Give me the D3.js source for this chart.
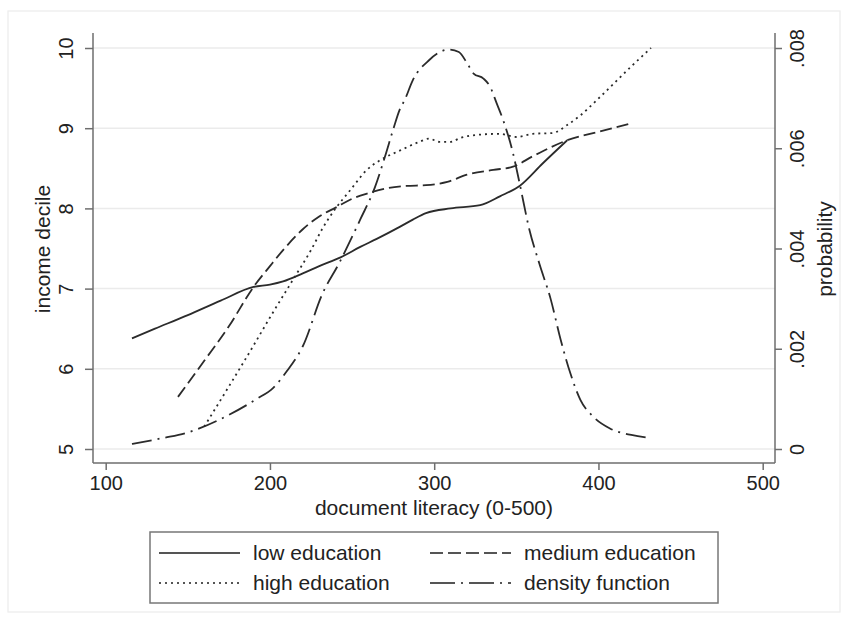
<!DOCTYPE html>
<html>
<head>
<meta charset="utf-8">
<script src="https://cdn.jsdelivr.net/npm/d3@7"></script>
<style>
  body { margin: 0; background: #fff; }
  svg text { font-family: "Liberation Sans", Arial, Helvetica, sans-serif; fill: #222; }
</style>
</head>
<body>
<svg id="chart" width="848" height="623"></svg>
<script>
// ---------- data ----------
const xTicks = [100, 200, 300, 400, 500];
const yLeftTicks = [5, 6, 7, 8, 9, 10];
const yRightTicks = [0, 0.002, 0.004, 0.006, 0.008];
const yRightLabels = ["0", ".002", ".004", ".006", ".008"];

const lowX = [116, 130, 150, 170, 190, 200, 208, 220, 230, 243, 255, 265, 279, 287, 295, 310, 328, 340, 352, 366, 381];
const lowY = [6.38, 6.50, 6.67, 6.85, 7.02, 7.05, 7.09, 7.19, 7.28, 7.39, 7.52, 7.62, 7.77, 7.86, 7.94, 8.00, 8.04, 8.15, 8.28, 8.56, 8.85];

const medX = [144, 160, 175, 190, 200, 208, 220, 230, 240, 250, 260, 271, 283, 295, 308, 320, 336, 348, 360, 381, 401, 420];
const medY = [5.65, 6.10, 6.53, 7.02, 7.28, 7.48, 7.74, 7.90, 8.01, 8.12, 8.19, 8.25, 8.28, 8.29, 8.33, 8.42, 8.48, 8.52, 8.65, 8.85, 8.96, 9.06];

const highX = [160, 175, 190, 200, 214, 225, 232, 240, 249, 259, 267, 279, 291, 297, 303, 310, 316, 328, 340, 350, 360, 372, 381, 389, 399, 410, 421, 432];
const highY = [5.28, 5.78, 6.29, 6.64, 7.11, 7.48, 7.75, 8.00, 8.23, 8.48, 8.60, 8.72, 8.83, 8.87, 8.83, 8.83, 8.88, 8.92, 8.93, 8.89, 8.93, 8.94, 9.04, 9.16, 9.35, 9.57, 9.79, 10.0];

const densX = [116, 135, 150, 157, 175, 192, 202, 210, 220, 232, 242, 255, 264, 270, 275, 279, 282, 287, 297, 303, 309, 315, 320, 324, 330, 334, 338, 342, 348, 352, 358, 364, 371, 377, 383, 389, 397, 407, 420, 432];
const densP = [0.00010, 0.00022, 0.00033, 0.00041, 0.00068, 0.00100, 0.00122, 0.00154, 0.00205, 0.00310, 0.00370, 0.00458, 0.00523, 0.00583, 0.00637, 0.00677, 0.00696, 0.00736, 0.00776, 0.00791, 0.00797, 0.00792, 0.00770, 0.00749, 0.00739, 0.00723, 0.00690, 0.00656, 0.00590, 0.00530, 0.00437, 0.00370, 0.00298, 0.00218, 0.00150, 0.00098, 0.00064, 0.00041, 0.00028, 0.00022];

const seriesNames = ["low education", "medium education", "high education", "density function"];

// ---------- layout ----------
const svg = d3.select("#chart");
const plotLeft = 93, plotRight = 775, plotTop = 33, plotBottom = 463;

const x = d3.scaleLinear().domain([100, 500]).range([105.7, 762.7]);
const yL = d3.scaleLinear().domain([5, 10]).range([449, 48]);
const yR = d3.scaleLinear().domain([0, 0.008]).range([449, 48]);

const lineColor = "#2b2b2b";
const axisColor = "#6e6e6e";

// outer graph region border
svg.append("rect").attr("x", 8).attr("y", 11).attr("width", 832).attr("height", 601)
  .attr("fill", "#fff").attr("stroke", "#ececec").attr("stroke-width", 1.2);

// gridlines
svg.append("g").selectAll("line").data(yLeftTicks).join("line")
  .attr("x1", plotLeft).attr("x2", plotRight)
  .attr("y1", d => yL(d)).attr("y2", d => yL(d))
  .attr("stroke", "#ebebeb").attr("stroke-width", 1.5);

// axes
const fmtTick = 20;
const gx = svg.append("g").attr("transform", `translate(0,${plotBottom})`)
  .call(d3.axisBottom(x).tickValues(xTicks).tickSize(7).tickPadding(6).tickFormat(d3.format("d")));
gx.select(".domain").remove();
gx.selectAll("line").attr("stroke", axisColor).attr("stroke-width", 1.5);
gx.selectAll("text").attr("font-size", fmtTick).attr("fill", "#222").attr("dy", "0.71em")
  .attr("y", 13).attr("font-family", "Liberation Sans, Arial, sans-serif");

const gyl = svg.append("g").attr("transform", `translate(${plotLeft},0)`)
  .call(d3.axisLeft(yL).tickValues(yLeftTicks).tickSize(8).tickFormat(d3.format("d")));
gyl.select(".domain").remove();
gyl.selectAll("line").attr("stroke", axisColor).attr("stroke-width", 1.5);
gyl.selectAll("text").remove();
gyl.selectAll(".tick").append("text")
  .attr("transform", "translate(-27,0) rotate(-90)")
  .attr("text-anchor", "middle").attr("dy", "0.35em")
  .attr("font-size", fmtTick).attr("fill", "#222")
  .attr("font-family", "Liberation Sans, Arial, sans-serif")
  .text(d => d3.format("d")(d));

const gyr = svg.append("g").attr("transform", `translate(${plotRight},0)`)
  .call(d3.axisRight(yR).tickValues(yRightTicks).tickSize(7).tickFormat((d, i) => yRightLabels[i]));
gyr.select(".domain").remove();
gyr.selectAll("line").attr("stroke", axisColor).attr("stroke-width", 1.5);
gyr.selectAll("text").remove();
gyr.selectAll(".tick").append("text")
  .attr("transform", "translate(22,0) rotate(-90)")
  .attr("text-anchor", "middle").attr("dy", "0.35em")
  .attr("font-size", fmtTick).attr("fill", "#222")
  .attr("font-family", "Liberation Sans, Arial, sans-serif")
  .text((d, i) => yRightLabels[i]);

// axis lines
svg.append("line").attr("x1", plotLeft).attr("x2", plotLeft).attr("y1", plotTop).attr("y2", plotBottom)
  .attr("stroke", axisColor).attr("stroke-width", 1.5);
svg.append("line").attr("x1", plotRight).attr("x2", plotRight).attr("y1", plotTop).attr("y2", plotBottom)
  .attr("stroke", axisColor).attr("stroke-width", 1.5);
svg.append("line").attr("x1", plotLeft).attr("x2", plotRight).attr("y1", plotBottom).attr("y2", plotBottom)
  .attr("stroke", axisColor).attr("stroke-width", 1.5);

// axis titles
svg.append("text").attr("x", 434).attr("y", 508).attr("text-anchor", "middle").attr("dy", "0.35em")
  .attr("font-size", 21).text("document literacy (0-500)");
svg.append("text").attr("transform", "translate(43,249) rotate(-90)").attr("text-anchor", "middle")
  .attr("dy", "0.35em").attr("font-size", 21).text("income decile");
svg.append("text").attr("transform", "translate(825,249) rotate(-90)").attr("text-anchor", "middle")
  .attr("dy", "0.35em").attr("font-size", 21).text("probability");

// series
const styles = [
  { dash: null },
  { dash: "12 5" },
  { dash: "2 4" },
  { dash: "20 6 2 6" }
];
const lineL = d3.line().x(d => x(d[0])).y(d => yL(d[1])).curve(d3.curveMonotoneX);
const lineR = d3.line().x(d => x(d[0])).y(d => yR(d[1])).curve(d3.curveMonotoneX);

const series = [
  { pts: d3.zip(lowX, lowY), gen: lineL },
  { pts: d3.zip(medX, medY), gen: lineL },
  { pts: d3.zip(highX, highY), gen: lineL },
  { pts: d3.zip(densX, densP), gen: lineR }
];
series.forEach((s, i) => {
  svg.append("path").attr("d", s.gen(s.pts))
    .attr("fill", "none").attr("stroke", lineColor).attr("stroke-width", 1.8)
    .attr("stroke-dasharray", styles[i].dash);
});

// legend
const lg = svg.append("g");
lg.append("rect").attr("x", 150).attr("y", 532).attr("width", 568).attr("height", 71)
  .attr("fill", "#fff").attr("stroke", "#777").attr("stroke-width", 1.5);
const legendPos = [
  { lx: 159, ty: 553 }, { lx: 430, ty: 553 },
  { lx: 159, ty: 583 }, { lx: 430, ty: 583 }
];
seriesNames.forEach((name, i) => {
  const p = legendPos[i];
  lg.append("line").attr("x1", p.lx).attr("x2", p.lx + 81).attr("y1", p.ty).attr("y2", p.ty)
    .attr("stroke", "#555").attr("stroke-width", 2)
    .attr("stroke-dasharray", i === 3 ? "25 6 2 6" : (i === 1 ? "13 5" : styles[i].dash));
  lg.append("text").attr("x", p.lx + 94).attr("y", p.ty).attr("dy", "0.35em")
    .attr("font-size", 21).text(name);
});
</script>
</body>
</html>
